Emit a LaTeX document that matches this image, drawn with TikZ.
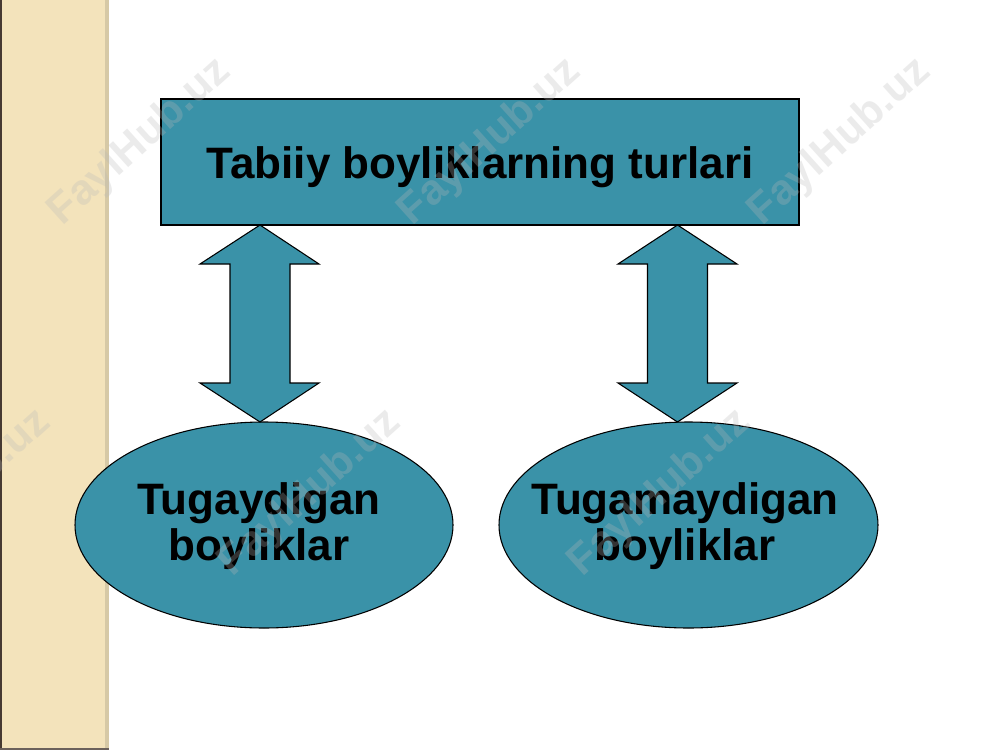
\documentclass[tikz,border=0pt]{standalone}
\usepackage{fontspec}
\setmainfont{Liberation Sans}
\usetikzlibrary{shapes.geometric}
\begin{document}
\begin{tikzpicture}[x=0.75pt,y=-0.75pt,
  teal/.style={fill=tealfill,draw=black,line width=0.8pt},
  lbl/.style={font=\bfseries\fontsize{33}{34}\selectfont,text=black,inner sep=0pt},
  wm/.style={font=\bfseries\fontsize{32}{32}\selectfont,text=wmgray,opacity=0.28,rotate=42,inner sep=0pt}]
\definecolor{tealfill}{RGB}{58,146,168}
\definecolor{beige}{RGB}{243,227,187}
\definecolor{beigeedge}{RGB}{214,201,166}
\definecolor{darkedge}{RGB}{70,58,50}
\definecolor{wmgray}{RGB}{185,185,185}
\useasboundingbox (0,0) rectangle (1000,750);
\fill[white] (0,0) rectangle (1000,750);
% left strip
\fill[beige] (0,0) rectangle (108,750);
\fill[beigeedge] (105,0) rectangle (109,750);
\fill[darkedge] (0,0) rectangle (1.5,750);
\fill[darkedge!80] (0,747.5) rectangle (109,750);
% title box
\node[teal,rectangle,minimum width=478.5pt,minimum height=94.5pt,inner sep=0pt] (title) at (480,162) {};
\node[lbl,anchor=base] (titletext) at (480,178) {Tabiiy boyliklarning turlari};
% ellipses
\node[teal,ellipse,minimum width=283.5pt,minimum height=154.5pt,inner sep=0pt] (left) at (264,525) {};
\node[teal,ellipse,minimum width=284.25pt,minimum height=154.5pt,inner sep=0pt] (right) at (688.5,525) {};
\node[lbl,anchor=base,align=center] (lefttext) at (259,560) {Tugaydigan\\boyliklar};
\node[lbl,anchor=base,align=center] (righttext) at (685,560) {Tugamaydigan\\boyliklar};
% double arrows
\coordinate (la) at (260,225);
\coordinate (lb) at (260,422);
\filldraw[teal,line join=miter] (la) -- (319,264) -- (290,264) -- (290,383) -- (319,383) -- (lb)
  -- (200,383) -- (230,383) -- (230,264) -- (200,264) -- cycle;
\coordinate (ra) at (677.5,225);
\coordinate (rb) at (677.5,422);
\filldraw[teal,line join=miter] (ra) -- (737,264) -- (707.5,264) -- (707.5,383) -- (737,383) -- (rb)
  -- (618,383) -- (647.5,383) -- (647.5,264) -- (618,264) -- cycle;
% watermarks
\node[wm] (w1) at (140,142) {FaylHub.uz};
\node[wm] (w2) at (490,142) {FaylHub.uz};
\node[wm] (w3) at (840,142) {FaylHub.uz};
\node[wm] (w4) at (-40,493) {FaylHub.uz};
\node[wm] (w5) at (310,493) {FaylHub.uz};
\node[wm] (w6) at (660,493) {FaylHub.uz};
\end{tikzpicture}
\end{document}
